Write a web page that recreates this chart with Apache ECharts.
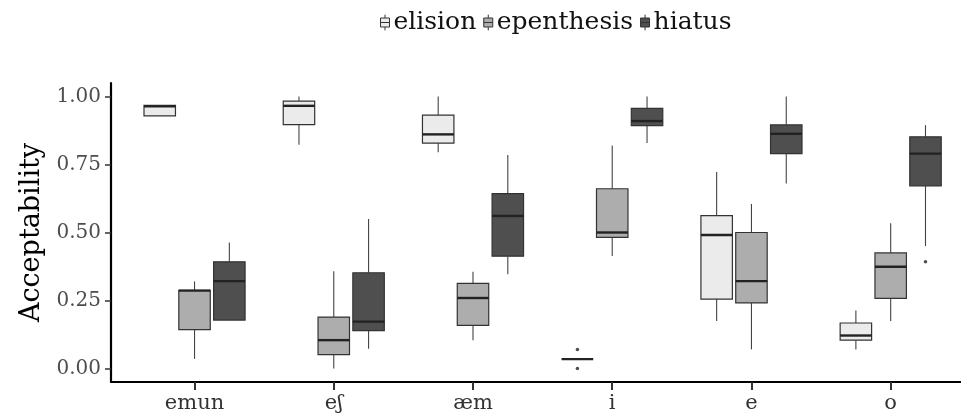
<!DOCTYPE html>
<html lang="en">
<head>
  <meta charset="UTF-8">
  <title>Acceptability boxplot</title>
  <script src="https://cdn.jsdelivr.net/npm/echarts@6.0.0/dist/echarts.min.js"></script>
  <style>
    body { margin: 0; padding: 0; background: #fff; }
    #chart { width: 961px; height: 419px; }
  </style>
</head>
<body>
  <div id="chart"></div>
  <script>
    // categories on the x axis
    const categories = ['emun', 'eʃ', 'æm', 'i', 'e', 'o'];
    const groups = ['elision', 'epenthesis', 'hiatus'];
    const groupColors = ['#ebebeb', '#adadad', '#4f4f4f'];

    // [min, q1, median, q3, max] per category
    const elisionStats = [
      [0.929, 0.929, 0.964, 0.968, 0.968],
      [0.823, 0.897, 0.966, 0.983, 1.0],
      [0.795, 0.829, 0.861, 0.932, 1.0],
      [0.034, 0.034, 0.034, 0.034, 0.034],
      [0.174, 0.255, 0.491, 0.562, 0.723],
      [0.070, 0.104, 0.121, 0.167, 0.213]
    ];
    const epenthesisStats = [
      [0.035, 0.143, 0.286, 0.287, 0.320],
      [0.0, 0.051, 0.104, 0.189, 0.357],
      [0.104, 0.158, 0.259, 0.313, 0.356],
      [0.414, 0.482, 0.500, 0.661, 0.820],
      [0.070, 0.241, 0.321, 0.500, 0.605],
      [0.174, 0.258, 0.374, 0.425, 0.534]
    ];
    const hiatusStats = [
      [0.178, 0.178, 0.321, 0.392, 0.463],
      [0.072, 0.139, 0.172, 0.352, 0.550],
      [0.346, 0.413, 0.561, 0.643, 0.785],
      [0.829, 0.893, 0.910, 0.957, 1.0],
      [0.680, 0.790, 0.863, 0.896, 1.0],
      [0.450, 0.671, 0.790, 0.852, 0.895]
    ];
    // outliers: [category index, group index, value]
    const outliers = [
      [3, 0, 0.070],
      [3, 0, 0.0],
      [5, 2, 0.392]
    ];

    const allStats = [elisionStats, epenthesisStats, hiatusStats];
    const yTicks = [0, 0.25, 0.5, 0.75, 1];
    const offsets = [-0.25, 0, 0.25];
    const halfWidth = 0.113;
    const serif = 'DejaVu Serif';

    function makeRender(g) {
      return function (params, api) {
        const c = api.value(0) + 1 + offsets[g];
        const xl = api.coord([c - halfWidth, 0])[0];
        const xr = api.coord([c + halfWidth, 0])[0];
        const xc = api.coord([c, 0])[0];
        const y = v => api.coord([c, v])[1];
        const lo = api.value(1), q1 = api.value(2), med = api.value(3), q3 = api.value(4), hi = api.value(5);
        return {
          type: 'group',
          children: [
            { type: 'line', shape: { x1: xc, y1: y(hi), x2: xc, y2: y(q3) }, style: { stroke: '#444', lineWidth: 1.1 } },
            { type: 'line', shape: { x1: xc, y1: y(q1), x2: xc, y2: y(lo) }, style: { stroke: '#444', lineWidth: 1.1 } },
            { type: 'rect', shape: { x: xl, y: y(q3), width: xr - xl, height: y(q1) - y(q3) },
              style: { fill: groupColors[g], stroke: '#333', lineWidth: 1.2 } },
            { type: 'line', shape: { x1: xl, y1: y(med), x2: xr, y2: y(med) }, style: { stroke: '#222', lineWidth: 2.4 } }
          ]
        };
      };
    }

    const series = groups.map((name, g) => ({
      name: name,
      type: 'custom',
      color: groupColors[g],
      renderItem: makeRender(g),
      encode: { x: 0, y: [1, 2, 3, 4, 5] },
      data: allStats[g].map((s, i) => [i].concat(s))
    }));

    series.push({
      type: 'scatter',
      symbolSize: 3.5,
      itemStyle: { color: '#222' },
      data: outliers.map(o => [o[0] + 1 + offsets[o[1]], o[2]])
    });

    const iconPath = 'path://M4,0L4,3M0,3L8,3L8,11L0,11ZM0,7L8,7M4,11L4,14';

    const chart = echarts.init(document.getElementById('chart'));
    chart.setOption({
      animation: false,
      backgroundColor: '#fff',
      legend: {
        top: 5,
        left: 375,
        itemGap: 7,
        itemWidth: 9,
        itemHeight: 16,
        textStyle: { fontFamily: serif, fontSize: 25, color: '#111', padding: [0, 0, 0, -1] },
        itemStyle: { borderColor: '#333', borderWidth: 1 },
        data: groups.map((n, g) => ({ name: n, icon: iconPath, itemStyle: { color: groupColors[g] } }))
      },
      grid: { left: 111, right: 0, top: 83, bottom: 37, outerBoundsMode: 'none' },
      xAxis: {
        type: 'value',
        min: 0.4,
        max: 6.505,
        splitLine: { show: false },
        axisLine: { show: true, onZero: false, lineStyle: { color: '#000', width: 2.2 } },
        axisTick: { show: true, length: 8, customValues: [1, 2, 3, 4, 5, 6], lineStyle: { color: '#333', width: 2 } },
        axisLabel: {
          customValues: [1, 2, 3, 4, 5, 6],
          formatter: v => categories[Math.round(v) - 1],
          fontFamily: serif, fontSize: 21, color: '#333', margin: 11
        }
      },
      yAxis: {
        type: 'value',
        min: -0.05,
        max: 1.05,
        name: 'Acceptability',
        nameLocation: 'middle',
        nameGap: 66,
        nameTextStyle: { fontFamily: serif, fontSize: 27, color: '#000' },
        splitLine: { show: false },
        axisLine: { show: true, lineStyle: { color: '#000', width: 2.2 } },
        axisTick: { show: true, length: 6, customValues: yTicks, lineStyle: { color: '#333', width: 1.5 } },
        axisLabel: {
          customValues: yTicks,
          formatter: v => v.toFixed(2),
          fontFamily: serif, fontSize: 20, color: '#4d4d4d', margin: 10
        }
      },
      series: series
    });
  </script>
</body>
</html>
